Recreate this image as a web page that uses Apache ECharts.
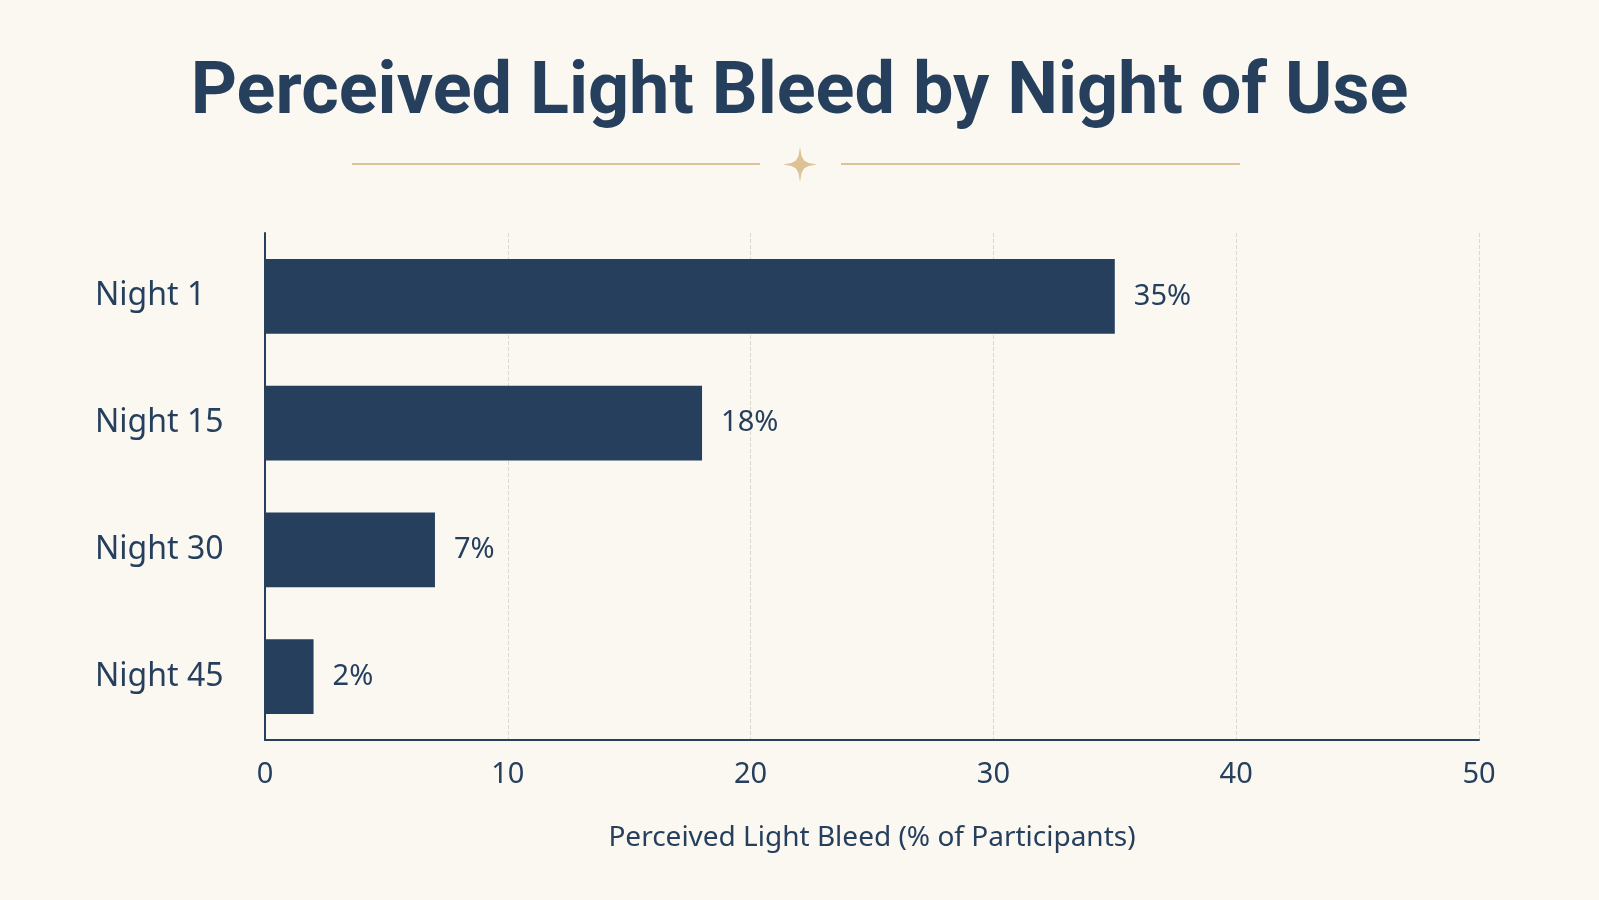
<!DOCTYPE html>
<html>
<head>
<meta charset="utf-8">
<script src="https://cdn.jsdelivr.net/npm/echarts@6/dist/echarts.min.js"></script>
<style>
  html, body { margin: 0; padding: 0; background: #fbf8f2; }
  #chart { width: 1599px; height: 900px; }
</style>
</head>
<body>
<div id="chart"></div>
<script>
var nights = ['Night 1', 'Night 15', 'Night 30', 'Night 45'];
var bleed = [35, 18, 7, 2];
var ticks = [0, 10, 20, 30, 40, 50];

var ink = '#253f5d';
var gold = '#dcc294';

var myChart = echarts.init(document.getElementById('chart'));

var option = {
  backgroundColor: '#fbf8f2',
  title: {
    text: 'Perceived Light Bleed by Night of Use',
    left: 'center',
    top: 54,
    textStyle: {
      fontFamily: 'Roboto',
      fontSize: 72,
      fontWeight: 'bold',
      color: ink
    }
  },
  graphic: [
    { type: 'line', shape: { x1: 352, y1: 164, x2: 760, y2: 164 }, style: { stroke: gold, lineWidth: 2 } },
    { type: 'line', shape: { x1: 841, y1: 164, x2: 1240, y2: 164 }, style: { stroke: gold, lineWidth: 2 } },
    {
      // four-point star between the two rules
      type: 'polygon',
      shape: {
        points: [
          [800, 147], [801.5, 156], [804, 160.5], [808.5, 163], [817, 164.5],
          [808.5, 166], [804, 168.5], [801.5, 173], [800, 182],
          [798.5, 173], [796, 168.5], [791.5, 166], [783, 164.5],
          [791.5, 163], [796, 160.5], [798.5, 156]
        ]
      },
      style: { fill: gold }
    }
  ],
  grid: {
    left: 265,
    right: 120,
    top: 233,
    bottom: 160
  },
  xAxis: {
    type: 'value',
    min: 0,
    max: 50,
    interval: 10,
    name: 'Perceived Light Bleed (% of Participants)',
    nameLocation: 'middle',
    nameGap: 84,
    nameTextStyle: { fontFamily: 'Noto Sans', fontSize: 28, color: ink },
    axisLine: { show: true, lineStyle: { color: ink, width: 2 } },
    axisTick: { show: false },
    axisLabel: {
      margin: 20,
      fontFamily: 'Noto Sans',
      fontSize: 29,
      color: ink,
      formatter: function (v) { return ticks.indexOf(v) >= 0 ? v : ''; }
    },
    splitLine: { show: true, lineStyle: { color: '#dcd8d0', width: 1, type: 'dashed' } }
  },
  yAxis: {
    type: 'category',
    data: nights,
    inverse: true,
    axisLine: { show: true, lineStyle: { color: ink, width: 2 } },
    axisTick: { show: false },
    axisLabel: {
      align: 'left',
      margin: 170,
      fontFamily: 'Noto Sans',
      fontSize: 32,
      color: ink
    }
  },
  series: [{
    name: 'Perceived Light Bleed',
    type: 'bar',
    data: bleed,
    barWidth: '59%',
    itemStyle: { color: '#263f5c' },
    label: {
      show: true,
      position: 'right',
      distance: 19,
      formatter: '{c}%',
      fontFamily: 'Noto Sans',
      fontSize: 29,
      color: ink
    }
  }]
};

myChart.setOption(option);
</script>
</body>
</html>
